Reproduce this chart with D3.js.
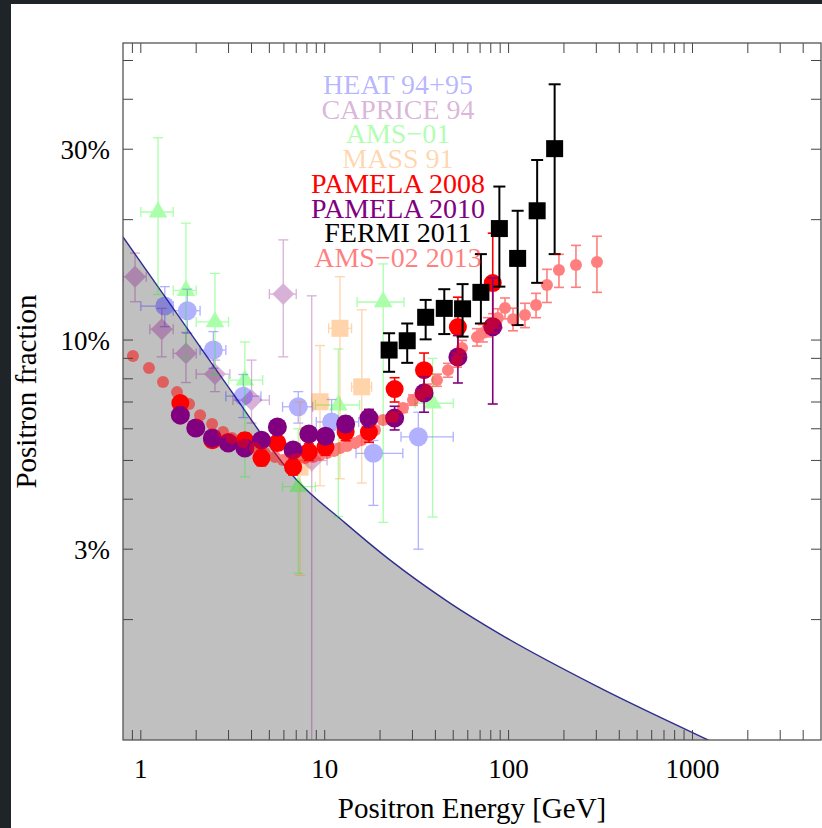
<!DOCTYPE html>
<html>
<head>
<meta charset="utf-8">
<script src="https://cdn.jsdelivr.net/npm/d3@7.9.0/dist/d3.min.js"></script>
<style>
  body { margin: 0; background: #1e2427; }
  svg { display: block; }
  text { font-family: "Liberation Serif", "DejaVu Serif", serif; }
</style>
</head>
<body>
<svg id="chart" width="822" height="828"></svg>
<script>
/* =========================
   DATA
========================= */
const xTickLabels = [1, 10, 100, 1000];
const yTickLabels = [0.03, 0.1, 0.3];

// secondary positron background (grey region)
const bgEnergy   = [0.8, 1.5, 3.05, 7.04, 12.9, 22.6, 48, 89.8, 314, 1214, 3840];
const bgFraction = [0.181, 0.12, 0.0754, 0.0447, 0.0349, 0.0282, 0.022, 0.0184, 0.0135, 0.01, 0.00776];

// HEAT 94+95
const heatE   = [1.35, 1.79, 2.48, 3.61, 7.18, 10.9, 18.4, 32.3];
const heatELo = [1.0, 1.5, 2.1, 2.9, 5.9, 9.0, 14.8, 26];
const heatEHi = [1.5, 2.1, 2.9, 4.5, 8.6, 15.3, 26.6, 50];
const heatF   = [0.1216, 0.1184, 0.0944, 0.0724, 0.0681, 0.0624, 0.0521, 0.0573];
const heatFLo = [0.108, 0.104, 0.085, 0.064, 0.062, 0.055, 0.0386, 0.030];
const heatFHi = [0.136, 0.134, 0.105, 0.082, 0.0743, 0.071, 0.0561, 0.066];

// CAPRICE 94
const capE   = [0.93, 1.30, 1.76, 2.53, 4.0, 5.95, 8.5];
const capELo = [0.8, 1.12, 1.5, 2.0, 3.17, 5.0, 7.0];
const capEHi = [1.07, 1.5, 2.0, 3.05, 5.0, 7.0, 10.3];
const capF   = [0.144, 0.1064, 0.0926, 0.0822, 0.0708, 0.1303, 0.05];
const capFLo = [0.1247, 0.0908, 0.0783, 0.0743, 0.062, 0.0908, 0.005];
const capFHi = [0.165, 0.12, 0.1045, 0.0891, 0.0891, 0.178, 0.129];

// AMS-01
const ams1E   = [1.24, 1.76, 2.53, 3.68, 7.18, 11.86, 20.8, 38.6];
const ams1ELo = [1.0, 1.5, 2.0, 3.0, 5.9, 8.9, 15, 31];
const ams1EHi = [1.5, 2.0, 3.0, 4.6, 8.9, 15.5, 27, 50];
const ams1F   = [0.209, 0.133, 0.111, 0.0794, 0.043, 0.0688, 0.1245, 0.0695];
const ams1FLo = [0.13, 0.09, 0.0818, 0.0455, 0.0261, 0.0362, 0.035, 0.0361];
const ams1FHi = [0.3205, 0.196, 0.1468, 0.0989, 0.06, 0.095, 0.155, 0.09];

// MASS 91
const massE   = [7.34, 9.43, 12.1, 15.9];
const massELo = [6.5, 8.5, 10.5, 14];
const massEHi = [8.5, 10.5, 14, 18];
const massF   = [0.0481, 0.0701, 0.107, 0.0764];
const massFLo = [0.0258, 0.0432, 0.045, 0.0439];
const massFHi = [0.07, 0.0969, 0.144, 0.119];

// PAMELA 2008 / 2010 (same energy bins)
const pamelaE = [1.64, 1.99, 2.45, 2.99, 3.68, 4.53, 5.53, 6.73, 8.2, 10.1, 13.0, 17.4, 24, 34.7, 53, 82];
const pam08F   = [0.0696, 0.0603, 0.0562, 0.0556, 0.0562, 0.0507, 0.0553, 0.0481, 0.0525, 0.0540, 0.0589, 0.0589, 0.0754, 0.0841, 0.1078, 0.1388];
const pam08FLo = [0.067, 0.058, 0.054, 0.0535, 0.054, 0.0485, 0.053, 0.046, 0.050, 0.0515, 0.056, 0.0555, 0.070, 0.077, 0.092, 0.112];
const pam08FHi = [0.072, 0.0625, 0.058, 0.0577, 0.0585, 0.053, 0.0577, 0.0503, 0.055, 0.0567, 0.062, 0.0625, 0.0805, 0.0928, 0.128, 0.185];
const pam10F   = [0.0649, 0.0603, 0.0569, 0.0553, 0.0537, 0.0562, 0.0606, 0.0531, 0.0582, 0.0575, 0.0617, 0.0638, 0.0638, 0.0737, 0.0907, 0.108];
const pam10FLo = [0.063, 0.0585, 0.0552, 0.0536, 0.052, 0.0545, 0.0586, 0.0512, 0.056, 0.0552, 0.059, 0.0605, 0.0596, 0.066, 0.0781, 0.0692];
const pam10FHi = [0.0668, 0.0621, 0.0586, 0.057, 0.0554, 0.058, 0.0626, 0.055, 0.0604, 0.0598, 0.0644, 0.0671, 0.0683, 0.081, 0.1026, 0.143];

// FERMI 2011
const fermiE   = [22.4, 28.1, 35.4, 44.7, 56.2, 70.7, 89.1, 112, 143, 178];
const fermiF   = [0.0944, 0.0996, 0.114, 0.120, 0.1197, 0.1316, 0.190, 0.160, 0.2105, 0.301];
const fermiFLo = [0.0833, 0.0877, 0.1004, 0.1035, 0.102, 0.110, 0.136, 0.109, 0.139, 0.164];
const fermiFHi = [0.104, 0.110, 0.126, 0.134, 0.138, 0.164, 0.242, 0.2105, 0.282, 0.436];

// AMS-02 2013
const ams2E = [0.906, 1.108, 1.32, 1.573, 1.83, 2.10, 2.44, 2.80, 3.13, 3.59, 4.18, 4.73, 5.37, 5.93, 6.47,
  7.07, 7.81, 8.64, 9.43, 10.29, 11.23, 12.11, 13.22, 14.61, 15.76, 16.98, 18.77, 20.75, 23.51, 26.65,
  30.2, 32.97, 36.0, 40.8, 46.8, 52.4, 55.8, 67.3, 72.5, 77.3, 82.3, 87.5, 95.6, 105.7, 122.8, 141,
  161.7, 187.9, 232.5, 302.4];
const ams2F = [0.0912, 0.0851, 0.0785, 0.0741, 0.0692, 0.0649, 0.0617, 0.0589, 0.0569, 0.0556, 0.0537, 0.0522, 0.0510, 0.0501, 0.0498,
  0.0504, 0.0507, 0.0510, 0.0516, 0.0522, 0.0528, 0.0537, 0.0543, 0.0553, 0.0562, 0.0572, 0.0596, 0.0631, 0.0642, 0.0676,
  0.0708, 0.0729, 0.0750, 0.0794, 0.0841, 0.0891, 0.0955, 0.1017, 0.1041, 0.1078, 0.1103, 0.1135, 0.1202, 0.1128, 0.1155, 0.1223,
  0.1372, 0.1496, 0.1540, 0.1567];
const ams2RelErr = [0.01, 0.01, 0.01, 0.01, 0.01, 0.01, 0.01, 0.01, 0.01, 0.01, 0.01, 0.01, 0.01, 0.01, 0.01,
  0.01, 0.01, 0.01, 0.01, 0.01, 0.015, 0.015, 0.015, 0.015, 0.02, 0.02, 0.02, 0.02, 0.025, 0.025,
  0.03, 0.03, 0.035, 0.035, 0.04, 0.04, 0.045, 0.05, 0.05, 0.055, 0.055, 0.055, 0.06, 0.065, 0.07, 0.07,
  0.095, 0.095, 0.12, 0.16];

const legendLabels = ['HEAT 94+95', 'CAPRICE 94', 'AMS\u221201', 'MASS 91', 'PAMELA 2008', 'PAMELA 2010', 'FERMI 2011', 'AMS\u221202 2013'];

/* =========================
   LAYOUT + SCALES
========================= */
const W = 822, H = 828;
const plot = { left: 123, right: 821, top: 43, bottom: 740 };

const xScale = d3.scaleLog().domain([0.8, 5000]).range([plot.left, plot.right]);
const yScale = d3.scaleLog().domain([0.01, 0.553]).range([plot.bottom, plot.top]);

const svg = d3.select('#chart');

// dark page edge + white panel
svg.append('rect').attr('width', W).attr('height', H).attr('fill', '#1e2427');
svg.append('rect').attr('x', 11).attr('y', 4).attr('width', W - 11).attr('height', H - 4).attr('fill', '#fff');

svg.append('clipPath').attr('id', 'clip')
  .append('rect')
  .attr('x', plot.left).attr('y', plot.top)
  .attr('width', plot.right - plot.left).attr('height', plot.bottom - plot.top);

const body = svg.append('g').attr('clip-path', 'url(#clip)');

/* =========================
   BACKGROUND MODEL
========================= */
const bg = bgEnergy.map((e, i) => ({ e, f: bgFraction[i] }));

body.append('path')
  .datum(bg)
  .attr('fill', '#c0c0c0')
  .attr('d', d3.area()
    .x(d => xScale(d.e))
    .y0(plot.bottom)
    .y1(d => yScale(d.f))
    .curve(d3.curveMonotoneX));

body.append('path')
  .datum(bg)
  .attr('fill', 'none')
  .attr('stroke', '#2e2e8f')
  .attr('stroke-width', 1.4)
  .attr('d', d3.line()
    .x(d => xScale(d.e))
    .y(d => yScale(d.f))
    .curve(d3.curveMonotoneX));

/* =========================
   HELPERS
========================= */
function makeRows(e, f, fLo, fHi, eLo, eHi) {
  return e.map((v, i) => ({
    e: v, f: f[i],
    fLo: fLo ? fLo[i] : null, fHi: fHi ? fHi[i] : null,
    eLo: eLo ? eLo[i] : null, eHi: eHi ? eHi[i] : null
  }));
}

function drawErrors(g, rows, color, width, cap) {
  const segs = [];
  rows.forEach(d => {
    const x = xScale(d.e), y = yScale(d.f);
    if (d.fLo != null) {
      const y0 = yScale(d.fLo), y1 = yScale(d.fHi);
      segs.push([x, y0, x, y1], [x - cap, y0, x + cap, y0], [x - cap, y1, x + cap, y1]);
    }
    if (d.eLo != null) {
      const x0 = xScale(d.eLo), x1 = xScale(d.eHi);
      segs.push([x0, y, x1, y], [x0, y - cap, x0, y + cap], [x1, y - cap, x1, y + cap]);
    }
  });
  g.append('g').selectAll('line')
    .data(segs)
    .join('line')
    .attr('x1', s => s[0]).attr('y1', s => s[1])
    .attr('x2', s => s[2]).attr('y2', s => s[3])
    .attr('stroke', color)
    .attr('stroke-width', width);
}

function drawSymbols(g, rows, color, symbol, size, rotate) {
  g.append('g').selectAll('path')
    .data(rows)
    .join('path')
    .attr('transform', d => `translate(${xScale(d.e)},${yScale(d.f)}) rotate(${rotate || 0})`)
    .attr('d', d3.symbol().type(symbol).size(size))
    .attr('fill', color);
}

function drawCircles(g, rows, color, r) {
  g.append('g').selectAll('circle')
    .data(rows)
    .join('circle')
    .attr('cx', d => xScale(d.e))
    .attr('cy', d => yScale(d.f))
    .attr('r', r)
    .attr('fill', color);
}

/* =========================
   DATASETS
========================= */
// HEAT 94+95
const heat = makeRows(heatE, heatF, heatFLo, heatFHi, heatELo, heatEHi);
const gHeat = body.append('g').attr('opacity', 0.3);
drawErrors(gHeat, heat, '#0000ff', 1.3, 5);
drawCircles(gHeat, heat, '#0000ff', 9.5);

// CAPRICE 94
const cap = makeRows(capE, capF, capFLo, capFHi, capELo, capEHi);
const gCap = body.append('g').attr('opacity', 0.3);
drawErrors(gCap, cap, '#800080', 1.3, 5);
drawSymbols(gCap, cap, '#800080', d3.symbolSquare, 240, 45);

// AMS-01
const ams1 = makeRows(ams1E, ams1F, ams1FLo, ams1FHi, ams1ELo, ams1EHi);
const gAms1 = body.append('g').attr('opacity', 0.33);
drawErrors(gAms1, ams1, '#00ff00', 1.3, 5);
drawSymbols(gAms1, ams1, '#00ff00', d3.symbolTriangle, 150, 0);

// MASS 91
const mass = makeRows(massE, massF, massFLo, massFHi, massELo, massEHi);
const gMass = body.append('g').attr('opacity', 0.33);
drawErrors(gMass, mass, '#ff8000', 1.3, 5);
drawSymbols(gMass, mass, '#ff8000', d3.symbolSquare, 289, 0);

// PAMELA 2008
const pam08 = makeRows(pamelaE, pam08F, pam08FLo, pam08FHi);
const gPam08 = body.append('g');
drawErrors(gPam08, pam08, '#ff0000', 1.6, 5);
drawCircles(gPam08, pam08, '#ff0000', 9);

// PAMELA 2010
const pam10 = makeRows(pamelaE, pam10F, pam10FLo, pam10FHi);
const gPam10 = body.append('g');
drawErrors(gPam10, pam10, '#800080', 1.6, 5);
drawCircles(gPam10, pam10, '#800080', 9.5);

// FERMI 2011
const fermi = makeRows(fermiE, fermiF, fermiFLo, fermiFHi);
const gFermi = body.append('g');
drawErrors(gFermi, fermi, '#000', 2, 6);
drawSymbols(gFermi, fermi, '#000', d3.symbolSquare, 289, 0);

// AMS-02 2013
const ams2 = makeRows(ams2E, ams2F,
  ams2F.map((f, i) => f * (1 - ams2RelErr[i])),
  ams2F.map((f, i) => f * (1 + ams2RelErr[i])));
const gAms2 = body.append('g').attr('opacity', 0.5);
drawErrors(gAms2, ams2, '#ff0000', 1.6, 5);
drawCircles(gAms2, ams2, '#ff0000', 6);

/* =========================
   LEGEND
========================= */
const legendColors = ['#0000ff', '#800080', '#00ff00', '#ff8000', '#ff0000', '#800080', '#000', '#ff0000'];
const legendOpacity = [0.3, 0.3, 0.33, 0.33, 1, 1, 1, 0.5];

svg.append('g').selectAll('text')
  .data(legendLabels)
  .join('text')
  .attr('x', 398)
  .attr('y', (d, i) => 94 + i * 24.7)
  .attr('text-anchor', 'middle')
  .attr('font-size', 28)
  .attr('fill', (d, i) => legendColors[i])
  .attr('fill-opacity', (d, i) => legendOpacity[i])
  .text(d => d);

/* =========================
   FRAME + TICKS
========================= */
const frame = svg.append('g');
const tickLen = 10;
const xTicks = xScale.ticks().filter(v => v > 0.8 && v < 5000);
const yTicks = yScale.ticks().filter(v => v > 0.01 && v < 0.553);

frame.selectAll('.xt').data(xTicks).join('line')
  .attr('x1', d => xScale(d)).attr('x2', d => xScale(d))
  .attr('y1', plot.bottom).attr('y2', plot.bottom - tickLen)
  .attr('stroke', '#444');
frame.selectAll('.xtt').data(xTicks).join('line')
  .attr('x1', d => xScale(d)).attr('x2', d => xScale(d))
  .attr('y1', plot.top).attr('y2', plot.top + tickLen)
  .attr('stroke', '#444');
frame.selectAll('.yt').data(yTicks).join('line')
  .attr('y1', d => yScale(d)).attr('y2', d => yScale(d))
  .attr('x1', plot.left).attr('x2', plot.left + tickLen)
  .attr('stroke', '#444');
frame.selectAll('.ytr').data(yTicks).join('line')
  .attr('y1', d => yScale(d)).attr('y2', d => yScale(d))
  .attr('x1', plot.right).attr('x2', plot.right - tickLen)
  .attr('stroke', '#444');

frame.append('rect')
  .attr('x', plot.left).attr('y', plot.top)
  .attr('width', plot.right - plot.left).attr('height', plot.bottom - plot.top)
  .attr('fill', 'none')
  .attr('stroke', '#555')
  .attr('stroke-width', 1.3);

// tick labels
svg.append('g').selectAll('text')
  .data(xTickLabels)
  .join('text')
  .attr('x', d => xScale(d))
  .attr('y', 778)
  .attr('text-anchor', 'middle')
  .attr('font-size', 27)
  .text(d => d);

svg.append('g').selectAll('text')
  .data(yTickLabels)
  .join('text')
  .attr('x', 110)
  .attr('y', d => yScale(d))
  .attr('dy', '0.35em')
  .attr('text-anchor', 'end')
  .attr('font-size', 27)
  .text(d => `${Math.round(d * 100)}%`);

// axis titles
svg.append('text')
  .attr('x', (plot.left + plot.right) / 2)
  .attr('y', 818)
  .attr('text-anchor', 'middle')
  .attr('font-size', 29)
  .text('Positron Energy [GeV]');

svg.append('text')
  .attr('transform', `translate(36,${(plot.top + plot.bottom) / 2}) rotate(-90)`)
  .attr('text-anchor', 'middle')
  .attr('font-size', 29)
  .text('Positron fraction');
</script>
</body>
</html>
